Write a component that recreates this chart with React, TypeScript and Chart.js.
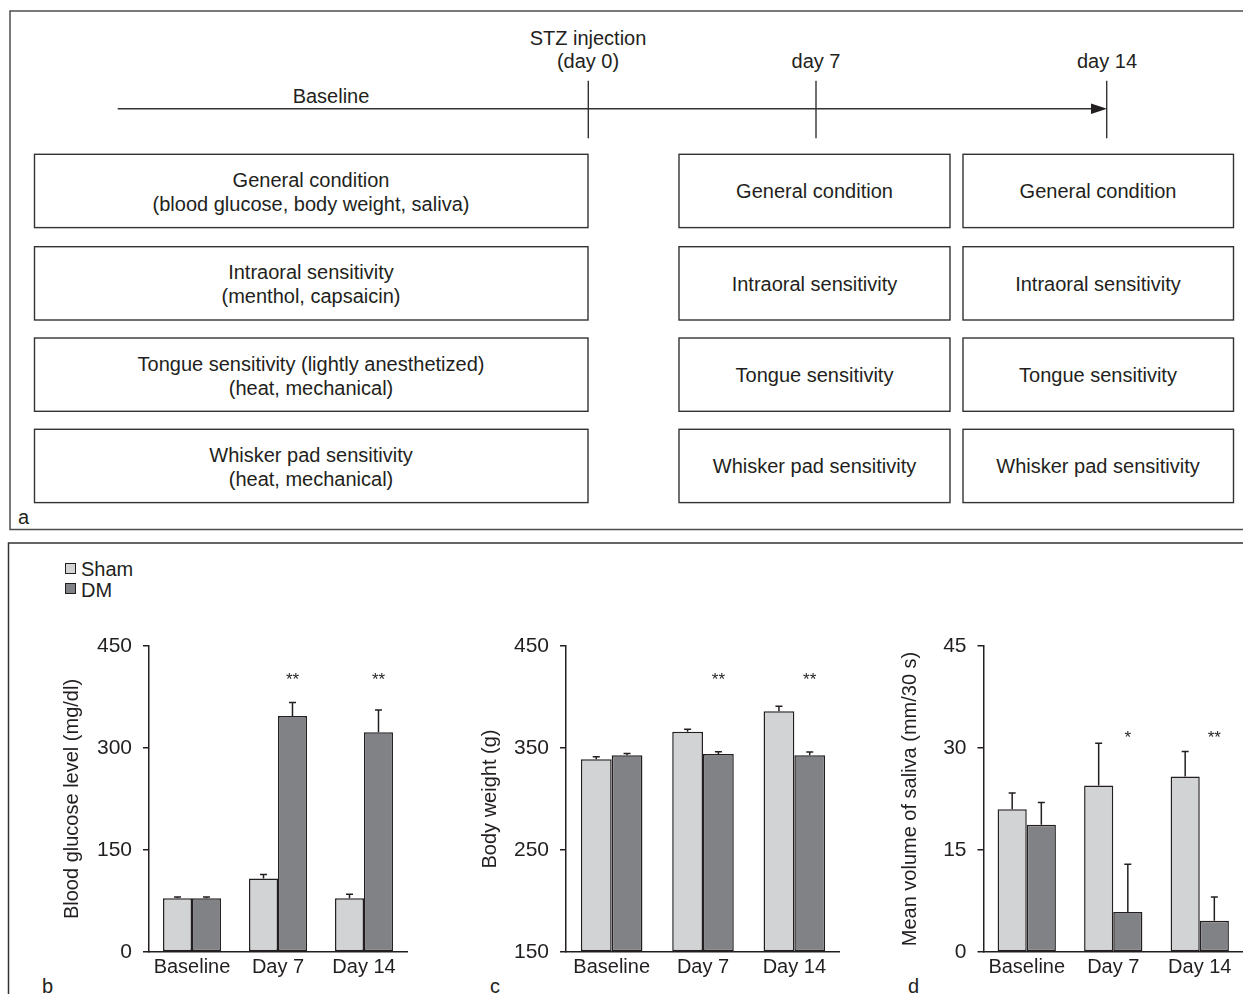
import React, { useEffect, useRef } from "react";
import { Chart, registerables } from "chart.js";

Chart.register(...registerables);

const FONT = "'Liberation Sans', Arial, Helvetica, sans-serif";
const TEXT = "#231f20";
const EDGE = "#231f20";
const SHAM_COLOR = "#d1d3d4";
const DM_COLOR = "#808285";

// ---- data ----
const categories = ["Baseline", "Day 7", "Day 14"];
const seriesNames = ["Sham", "DM"];

const glucoseSham = [79, 108, 79];
const glucoseShamErr = [2, 6, 6];
const glucoseDM = [79, 347, 323];
const glucoseDMErr = [2, 20, 33];
const glucoseSig = ["", "**", "**"];

const weightSham = [339, 366, 386];
const weightShamErr = [2.5, 2.5, 5];
const weightDM = [343, 344, 343];
const weightDMErr = [1.5, 2.3, 3];
const weightSig = ["", "**", "**"];

const salivaSham = [21.0, 24.5, 25.8];
const salivaShamErr = [2.4, 6.2, 3.7];
const salivaDM = [18.7, 5.9, 4.6];
const salivaDMErr = [3.3, 7.0, 3.5];
const salivaSig = ["", "*", "**"];

// ---- panel a content ----
const baselineBoxes = [
  ["General condition", "(blood glucose, body weight, saliva)"],
  ["Intraoral sensitivity", "(menthol, capsaicin)"],
  ["Tongue sensitivity (lightly anesthetized)", "(heat, mechanical)"],
  ["Whisker pad sensitivity", "(heat, mechanical)"],
];
const followBoxes = [
  "General condition",
  "Intraoral sensitivity",
  "Tongue sensitivity",
  "Whisker pad sensitivity",
];

type Panel = {
  sham: number[];
  shamErr: number[];
  dm: number[];
  dmErr: number[];
  sig: string[];
  sigAt: number;
  min: number;
  max: number;
  step: number;
  title: string;
  left: number;
  width: number;
  axisX: number;
  plotRight: number;
  titleX: number;
};

const CANVAS_TOP = 600;
const CANVAS_H = 394;

const panels: Panel[] = [
  {
    sham: glucoseSham, shamErr: glucoseShamErr, dm: glucoseDM, dmErr: glucoseDMErr,
    sig: glucoseSig, sigAt: 407, min: 0, max: 450, step: 150,
    title: "Blood glucose level (mg/dl)",
    left: 0, width: 420, axisX: 149, plotRight: 407, titleX: 72,
  },
  {
    sham: weightSham, shamErr: weightShamErr, dm: weightDM, dmErr: weightDMErr,
    sig: weightSig, sigAt: 421.6, min: 150, max: 450, step: 100,
    title: "Body weight (g)",
    left: 420, width: 420, axisX: 566, plotRight: 823, titleX: 70,
  },
  {
    sham: salivaSham, shamErr: salivaShamErr, dm: salivaDM, dmErr: salivaDMErr,
    sig: salivaSig, sigAt: 32.2, min: 0, max: 45, step: 15,
    title: "Mean volume of saliva (mm/30 s)",
    left: 840, width: 403, axisX: 983.5, plotRight: 1241, titleX: 70,
  },
];

const errorBarPlugin = {
  id: "errorBars",
  afterDatasetsDraw(chart: any) {
    const ctx = chart.ctx;
    const yScale = chart.scales.y;
    chart.data.datasets.forEach((ds: any, di: number) => {
      const meta = chart.getDatasetMeta(di);
      meta.data.forEach((bar: any, i: number) => {
        const v = ds.data[i];
        const e = ds.errors ? ds.errors[i] : 0;
        if (!e) return;
        const yTop = yScale.getPixelForValue(v + e);
        ctx.save();
        ctx.strokeStyle = EDGE;
        ctx.lineWidth = 1.5;
        ctx.beginPath();
        ctx.moveTo(bar.x, bar.y);
        ctx.lineTo(bar.x, yTop);
        ctx.moveTo(bar.x - 3.5, yTop);
        ctx.lineTo(bar.x + 3.5, yTop);
        ctx.stroke();
        ctx.restore();
      });
    });
  },
};

const sigPlugin = {
  id: "sigMarks",
  afterDatasetsDraw(chart: any, _args: any, opts: any) {
    if (!opts || !opts.labels) return;
    const ctx = chart.ctx;
    const yScale = chart.scales.y;
    const meta = chart.getDatasetMeta(1);
    const y = yScale.getPixelForValue(opts.at);
    ctx.save();
    ctx.fillStyle = TEXT;
    ctx.font = `17px ${FONT}`;
    ctx.textAlign = "center";
    ctx.textBaseline = "alphabetic";
    opts.labels.forEach((lab: string, i: number) => {
      if (!lab) return;
      const bar = meta.data[i];
      ctx.fillText(lab, bar.x, y + 10);
    });
    ctx.restore();
  },
};

function makeConfig(p: Panel): any {
  const common = {
    borderColor: EDGE,
    borderWidth: 1.5,
    borderSkipped: false,
    categoryPercentage: 0.674,
    barPercentage: 1,
    base: p.min,
  };
  return {
    type: "bar",
    data: {
      labels: categories,
      datasets: [
        { label: seriesNames[0], data: p.sham, errors: p.shamErr, backgroundColor: SHAM_COLOR, ...common },
        { label: seriesNames[1], data: p.dm, errors: p.dmErr, backgroundColor: DM_COLOR, ...common },
      ],
    },
    options: {
      responsive: false,
      animation: false,
      devicePixelRatio: 1,
      layout: { padding: { top: 46, right: p.width - p.plotRight, bottom: 0, left: 0 } },
      plugins: {
        legend: { display: false },
        tooltip: { enabled: false },
        sigMarks: { labels: p.sig, at: p.sigAt },
      },
      scales: {
        x: {
          grid: { display: false, drawTicks: false },
          border: { display: true, color: EDGE, width: 1.5 },
          ticks: { color: TEXT, font: { size: 20, family: FONT }, padding: 3 },
          afterFit: (s: any) => {
            s.height = 42;
          },
        },
        y: {
          min: p.min,
          max: p.max,
          ticks: { stepSize: p.step, color: TEXT, font: { size: 21, family: FONT }, padding: 11 },
          grid: { drawOnChartArea: false, drawTicks: true, tickLength: 6, color: EDGE, lineWidth: 1.5 },
          border: { display: true, color: EDGE, width: 1.5 },
          title: {
            display: true,
            text: p.title,
            color: TEXT,
            font: { size: 20, family: FONT },
            padding: { top: p.titleX - 12, bottom: 0 },
          },
          afterFit: (s: any) => {
            s.width = p.axisX - p.left;
          },
        },
      },
    },
    plugins: [errorBarPlugin, sigPlugin],
  };
}

function BarPanel({ p }: { p: Panel }) {
  const ref = useRef<HTMLCanvasElement | null>(null);
  useEffect(() => {
    if (!ref.current) return;
    const chart = new Chart(ref.current, makeConfig(p));
    return () => chart.destroy();
  }, [p]);
  return (
    <canvas
      ref={ref}
      width={p.width}
      height={CANVAS_H}
      style={{ position: "absolute", left: p.left, top: CANVAS_TOP, width: p.width, height: CANVAS_H }}
    />
  );
}

const rowTops = [154.3, 246.7, 338, 429.3];
const rowH = 73.3;

function Diagram() {
  const textProps = { fill: TEXT, fontSize: 20, fontFamily: FONT, textAnchor: "middle" as const };
  const line = { stroke: "#333", strokeWidth: 1.4 };
  return (
    <svg width={1243} height={994} style={{ position: "absolute", left: 0, top: 0 }}>
      {/* panel frames */}
      <rect x={10} y={11} width={1240} height={518.5} fill="none" stroke="#4d4d4d" strokeWidth={1.5} />
      <rect x={8.5} y={543} width={1250} height={470} fill="none" stroke="#333" strokeWidth={1.5} />

      {/* timeline */}
      <line x1={117.7} y1={108.7} x2={1094} y2={108.7} {...line} />
      <polygon points="1091,103.5 1107,108.7 1091,114" fill="#231f20" />
      <line x1={588.3} y1={80.7} x2={588.3} y2={138.3} {...line} />
      <line x1={816} y1={80.7} x2={816} y2={138.3} {...line} />
      <line x1={1106.7} y1={80.7} x2={1106.7} y2={138.3} {...line} />
      <text x={588} y={44.5} {...textProps}>STZ injection</text>
      <text x={588} y={68} {...textProps}>(day 0)</text>
      <text x={816} y={68} {...textProps}>day 7</text>
      <text x={1107} y={68} {...textProps}>day 14</text>
      <text x={331} y={103} {...textProps}>Baseline</text>

      {/* boxes */}
      {rowTops.map((t, i) => {
        const c = t + rowH / 2;
        return (
          <g key={i}>
            <rect x={34.5} y={t} width={553.5} height={rowH} fill="none" {...line} />
            <text x={311} y={c - 4} {...textProps}>{baselineBoxes[i][0]}</text>
            <text x={311} y={c + 20} {...textProps}>{baselineBoxes[i][1]}</text>
            <rect x={679} y={t} width={271} height={rowH} fill="none" {...line} />
            <text x={814.5} y={c + 7.5} {...textProps}>{followBoxes[i]}</text>
            <rect x={963} y={t} width={270.5} height={rowH} fill="none" {...line} />
            <text x={1098} y={c + 7.5} {...textProps}>{followBoxes[i]}</text>
          </g>
        );
      })}
      <text x={18} y={524} fill={TEXT} fontSize={20} fontFamily={FONT}>a</text>

      {/* legend */}
      <rect x={65.5} y={563.5} width={10} height={10} fill={SHAM_COLOR} stroke={EDGE} strokeWidth={1} />
      <text x={81} y={576} fill={TEXT} fontSize={20} fontFamily={FONT}>{seriesNames[0]}</text>
      <rect x={65.5} y={583.5} width={10} height={10} fill={DM_COLOR} stroke={EDGE} strokeWidth={1} />
      <text x={81} y={597} fill={TEXT} fontSize={20} fontFamily={FONT}>{seriesNames[1]}</text>

      {/* panel letters */}
      <text x={42} y={993} fill={TEXT} fontSize={20} fontFamily={FONT}>b</text>
      <text x={490} y={993} fill={TEXT} fontSize={20} fontFamily={FONT}>c</text>
      <text x={908} y={993} fill={TEXT} fontSize={20} fontFamily={FONT}>d</text>
    </svg>
  );
}

export default function App() {
  return (
    <div
      style={{
        position: "absolute",
        left: 0,
        top: 0,
        width: 1243,
        height: 994,
        overflow: "hidden",
        background: "#fff",
        fontFamily: FONT,
      }}
    >
      <Diagram />
      {panels.map((p, i) => (
        <BarPanel key={i} p={p} />
      ))}
    </div>
  );
}
